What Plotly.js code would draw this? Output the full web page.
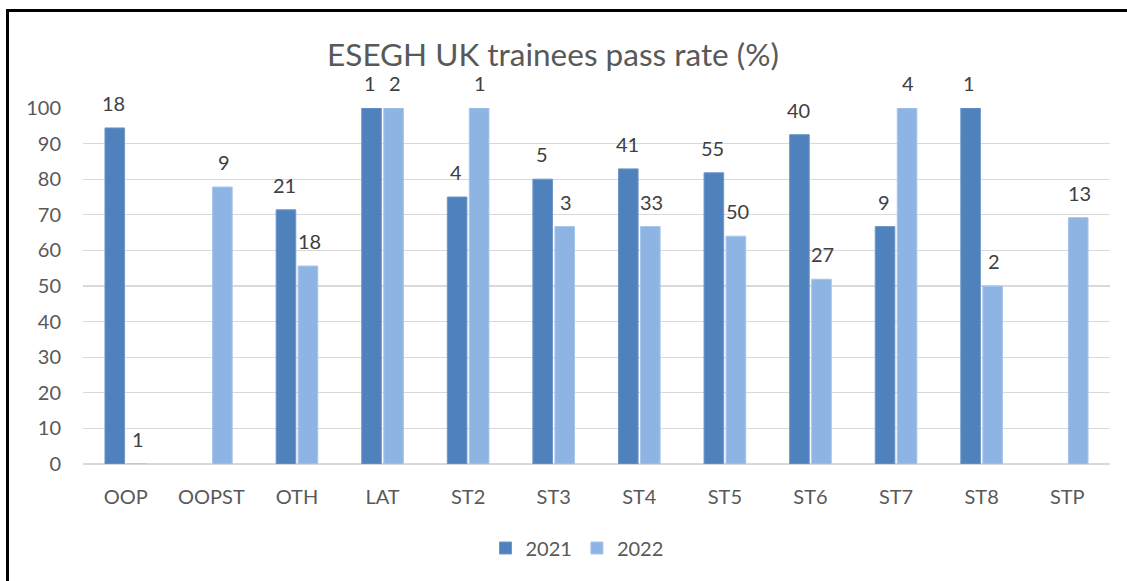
<!DOCTYPE html>
<html>
<head>
<meta charset="utf-8">
<script src="https://cdn.plot.ly/plotly-3.0.1.min.js"></script>
<style>
  html, body { margin: 0; padding: 0; background: #fff; overflow: hidden; }
  #chart { width: 1127px; height: 581px; }
</style>
</head>
<body>
<div id="chart"></div>
<script>
const categories = ["OOP", "OOPST", "OTH", "LAT", "ST2", "ST3", "ST4", "ST5", "ST6", "ST7", "ST8", "STP"];
const rate2021 = [94.4, null, 71.4, 100, 75, 80, 82.9, 81.8, 92.5, 66.7, 100, null];
const rate2022 = [0, 77.8, 55.6, 100, 100, 66.7, 66.7, 64, 51.9, 100, 50, 69.2];
const count2021 = ["18", "", "21", "1", "4", "5", "41", "55", "40", "9", "1", ""];
const count2022 = ["1", "9", "18", "2", "1", "3", "33", "50", "27", "4", "2", "13"];
const yTicks = [0, 10, 20, 30, 40, 50, 60, 70, 80, 90, 100];

const FONT = "Lato, 'Open Sans', sans-serif";
const GREY = "#595959";

const traces = [
  { type: "bar", name: "2021", x: categories, y: rate2021,
    marker: { color: "#4F81BD", line: { color: "#6f97c9", width: 1 } } },
  { type: "bar", name: "2022", x: categories, y: rate2022,
    marker: { color: "#8EB4E3", line: { color: "#a8c5ea", width: 1 } } }
];

const annotations = [];
[[rate2021, count2021, -12.2], [rate2022, count2022, 12.2]].forEach(([vals, counts, dx]) => {
  categories.forEach((c, i) => {
    if (vals[i] === null || counts[i] === "") return;
    annotations.push({
      x: c, y: vals[i], xref: "x", yref: "y",
      text: counts[i], showarrow: false,
      xanchor: "center", yanchor: "bottom",
      xshift: dx, yshift: 11,
      font: { family: FONT, size: 20, color: "#404040" }
    });
  });
});

const L = 83, R = 1110, T = 108, B = 464;
const px = v => (v - L) / (R - L);
const py = v => (B - v) / (B - T);
const shapes = [
  { type: "path", xref: "paper", yref: "paper",
    path: `M${px(7.5)},${py(581)} L${px(7.5)},${py(10.5)} L${px(1127)},${py(10.5)}`,
    line: { color: "#000", width: 3 } }
];

const layout = {
  width: 1127, height: 581,
  margin: { l: L, r: 1127 - R, t: T, b: 581 - B },
  paper_bgcolor: "#fff", plot_bgcolor: "#fff",
  font: { family: FONT, size: 20, color: GREY },
  title: { text: "ESEGH UK trainees pass rate (%)",
           font: { family: FONT, size: 31.5, color: GREY },
           x: 553 / 1127, xref: "container", xanchor: "center",
           y: 1 - 55 / 581, yref: "container", yanchor: "middle" },
  barmode: "group", bargap: 0.485, bargroupgap: 0.11,
  xaxis: { type: "category", showgrid: false, zeroline: false, showline: false,
           ticks: "", ticklabelstandoff: 19,
           tickfont: { family: FONT, size: 20, color: GREY } },
  yaxis: { range: [0, 100], tickvals: yTicks, showgrid: true, gridcolor: "#D9D9D9", gridwidth: 1.3,
           zeroline: true, zerolinecolor: "#D9D9D9", zerolinewidth: 1.3, showline: false, ticks: "",
           ticklabelstandoff: 21,
           tickfont: { family: FONT, size: 20, color: GREY } },
  showlegend: true,
  legend: { orientation: "h", x: 577 / 1127, xref: "container", xanchor: "center",
            y: 1 - 548 / 581, yref: "container", yanchor: "middle",
            font: { family: FONT, size: 20, color: GREY }, itemwidth: 30 },
  shapes: shapes,
  annotations: annotations
};

Plotly.newPlot("chart", traces, layout, { displayModeBar: false, staticPlot: true });
</script>
</body>
</html>
